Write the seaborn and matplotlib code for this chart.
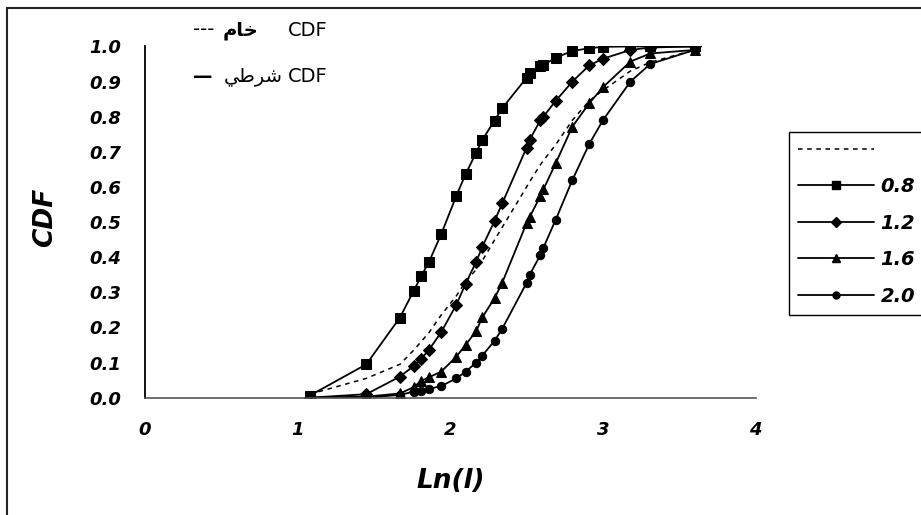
import matplotlib
matplotlib.use('Agg')
import matplotlib.pyplot as plt
import seaborn as sns
from matplotlib.lines import Line2D
from matplotlib.patches import Rectangle

# ---- data ----
ln_l = [1.08, 1.45, 1.67, 1.76, 1.81, 1.86, 1.94, 2.04, 2.10, 2.17, 2.21, 2.29,
        2.34, 2.50, 2.52, 2.59, 2.61, 2.69, 2.80, 2.91, 3.00, 3.18, 3.31, 3.60]

cdf_raw = [0.01, 0.055, 0.095, 0.135, 0.16, 0.185, 0.235, 0.29, 0.33, 0.365, 0.39, 0.449,
           0.485, 0.60, 0.615, 0.663, 0.675, 0.72, 0.79, 0.845, 0.875, 0.93, 0.955, 0.99]
cdf_08 = [0.006, 0.095, 0.228, 0.304, 0.346, 0.386, 0.465, 0.575, 0.636, 0.698, 0.734, 0.789,
          0.824, 0.911, 0.924, 0.944, 0.947, 0.968, 0.987, 0.995, 0.999, 1.0, 1.0, 1.0]
cdf_12 = [0.0, 0.01, 0.06, 0.09, 0.111, 0.136, 0.186, 0.265, 0.324, 0.387, 0.43, 0.503,
          0.553, 0.712, 0.734, 0.79, 0.80, 0.845, 0.90, 0.946, 0.965, 0.99, 0.997, 1.0]
cdf_16 = [0.0, 0.003, 0.012, 0.03, 0.048, 0.058, 0.074, 0.117, 0.15, 0.19, 0.229, 0.283,
          0.327, 0.497, 0.514, 0.574, 0.593, 0.667, 0.772, 0.838, 0.884, 0.957, 0.98, 0.99]
cdf_20 = [0.0, 0.0, 0.008, 0.017, 0.02, 0.025, 0.033, 0.055, 0.074, 0.10, 0.12, 0.162,
          0.196, 0.327, 0.35, 0.406, 0.427, 0.506, 0.62, 0.722, 0.79, 0.90, 0.95, 0.99]

series_labels = ['0.8', '1.2', '1.6', '2.0']
series_values = [cdf_08, cdf_12, cdf_16, cdf_20]
series_markers = ['s', 'D', '^', 'o']
marker_sizes = [6.5, 6, 7, 6]

x_ticks = [0, 1, 2, 3, 4]
y_ticks = [0.0, 0.1, 0.2, 0.3, 0.4, 0.5, 0.6, 0.7, 0.8, 0.9, 1.0]

# Arabic words in visual (shaped, left-to-right) order
txt_raw = '\uFEE1\uFE8E\uFEA7'          # خام
txt_cond = '\uFEF2\uFEC3\uFEAE\uFEB7'   # شرطي

sns.set_style('white')
plt.rcParams['font.family'] = ['DejaVu Sans']
plt.rcParams.update({
    'text.color': 'black',
    'axes.labelcolor': 'black',
    'xtick.color': 'black',
    'ytick.color': 'black',
})

fig = plt.figure(figsize=(9.21, 5.15), dpi=100)
ax = fig.add_axes([0.1574, 0.2278, 0.663, 0.682])

dash_style = (0, (3, 3))
sns.lineplot(x=ln_l, y=cdf_raw, ax=ax, color='black', lw=1.1, linestyle=dash_style)
for lab, vals, mk, ms in zip(series_labels, series_values, series_markers, marker_sizes):
    sns.lineplot(x=ln_l, y=vals, ax=ax, color='black', lw=1.3, marker=mk,
                 markersize=ms, markeredgecolor='black', markerfacecolor='black')

ax.set_xlim(0, 4)
ax.set_ylim(0, 1.0)
ax.set_xticks(x_ticks)
ax.set_yticks(y_ticks)
ax.set_xticklabels([str(t) for t in x_ticks])
ax.set_yticklabels([f'{t:.1f}' for t in y_ticks])
for lbl in ax.get_xticklabels() + ax.get_yticklabels():
    lbl.set_fontweight('bold')
    lbl.set_fontstyle('italic')
    lbl.set_fontsize(13)
    lbl.set_color('black')
ax.tick_params(axis='both', direction='in', length=6, width=1, color='black')
ax.tick_params(axis='y', pad=17)
ax.tick_params(axis='x', pad=17)

sns.despine(ax=ax)
ax.spines['left'].set_color('black')
ax.spines['left'].set_linewidth(1.3)
ax.spines['bottom'].set_color('#555555')
ax.spines['bottom'].set_linewidth(1.2)

ax.set_ylabel('CDF', fontsize=19, fontweight='bold', fontstyle='italic', color='black')
ax.yaxis.set_label_coords(-0.164, 0.512)
ax.yaxis.label.set_verticalalignment('center')
ax.set_xlabel('Ln(l)', fontsize=19, fontweight='bold', fontstyle='italic', color='black')
ax.xaxis.set_label_coords(0.501, -0.237)
ax.xaxis.label.set_verticalalignment('center')

# legend (first entry: raw CDF dashed line, no label)
handles = [Line2D([], [], color='black', lw=1.1, linestyle=dash_style)]
for mk, ms in zip(series_markers, marker_sizes):
    handles.append(Line2D([], [], color='black', lw=1.3, marker=mk, markersize=ms - 1))
labels = [''] + series_labels
leg = fig.legend(handles, labels, loc='upper left', bbox_to_anchor=(789 / 921, 1 - 132 / 515),
                 frameon=True, fancybox=False, edgecolor='black', framealpha=1,
                 handlelength=3.9, handletextpad=0.35, labelspacing=0.9, borderpad=0.45,
                 borderaxespad=0, prop=dict(weight='bold', style='italic', size=14))
leg.get_frame().set_linewidth(1.0)

# annotation in the top-left corner
fy1 = 1 - 30 / 515
fy2 = 1 - 77 / 515
fig.text(328 / 921, fy1, 'CDF', ha='right', va='center', fontsize=14)
fig.text(258 / 921, fy1, txt_raw, ha='right', va='center', fontsize=14, fontweight='bold')
fig.text(214 / 921, fy1, '---', ha='right', va='center', fontsize=14)
fig.text(328 / 921, fy2, 'CDF', ha='right', va='center', fontsize=14)
fig.text(283 / 921, fy2, txt_cond, ha='right', va='center', fontsize=14)
fig.text(212 / 921, fy2, '\u2014', ha='right', va='center', fontsize=14, fontweight='bold')

# outer frame (cut by the picture edges on the right and bottom)
fig.patches.append(Rectangle((7 / 921, -0.2), 1.2, 1.2 - 8 / 515, transform=fig.transFigure,
                             fill=False, edgecolor='#222222', lw=1.5, clip_on=False))

fig.savefig('out.png', dpi=100)
